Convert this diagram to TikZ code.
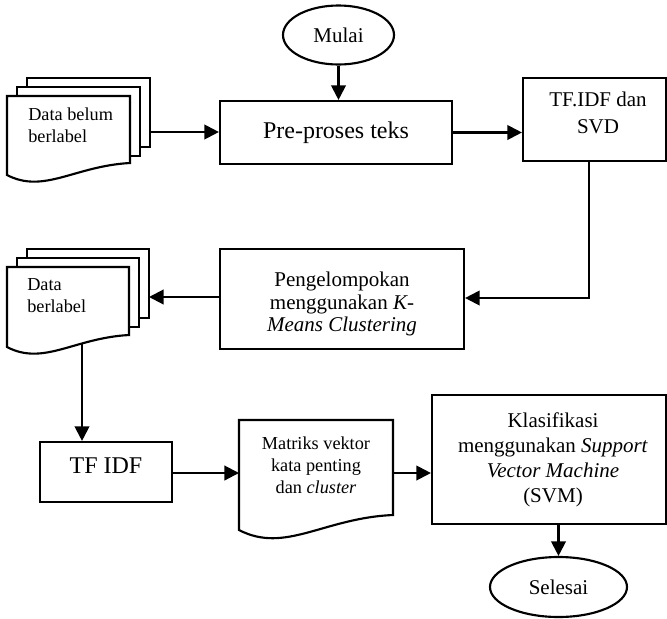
\documentclass[tikz,border=0pt]{standalone}
\usepackage{fontspec}
\setmainfont{Liberation Serif}
\usetikzlibrary{shapes.geometric,arrows.meta}
\tikzset{
 boxline/.style={draw,line width=1.6pt,fill=white},
 procbox/.style={boxline,rectangle,inner sep=0pt},
 termnode/.style={boxline,ellipse,inner sep=0pt,font=\fontsize{15.75}{18.75}\selectfont},
 bigtxt/.style={font=\fontsize{18}{22}\selectfont,align=center,inner sep=0pt},
 midtxt/.style={font=\fontsize{15.75}{18.75}\selectfont,align=center,inner sep=0pt},
 smalltxt/.style={font=\fontsize{13.7}{16.5}\selectfont,inner sep=0pt},
 conn/.style={line width=1.6pt},
 arr/.style={conn,-{Triangle[length=11pt,width=11pt]}},
}
% x0, y-top, x1, y-bottom-right, y-bottom-left
\newcommand\docsheet[5]{%
  \draw[boxline] (#1,#2) -- (#3,#2) -- (#3,#4)
    .. controls ({#1+0.55*(#3-#1)},{#4+3}) and ({#1+0.3*(#3-#1)},{#5+1.6*(#5-#4)}) .. (#1,#5) -- cycle;}
\newcommand\backsheet[4]{%
  \draw[boxline] (#1,#2) rectangle (#3,#4);}
\begin{document}
\begin{tikzpicture}[x=0.75pt,y=-0.75pt]
\useasboundingbox (0,0) rectangle (667,618);

% terminals
\node[termnode,minimum width=83.25pt,minimum height=44.25pt] (mulai) at (338.5,35) {Mulai};
\node[termnode,minimum width=102.75pt,minimum height=45pt] (selesai) at (558.5,587) {Selesai};

% process boxes
\node[procbox,minimum width=174pt,minimum height=47.25pt,bigtxt] (pre) at (336,132.5) {Pre-proses teks};
\node[procbox,minimum width=107.25pt,minimum height=62.25pt] (tfsvd) at (594.5,119.5) {};
\node[midtxt,font=\fontsize{15.75}{20}\selectfont] (tfsvdtxt) at (598,113) {TF.IDF dan\\SVD};
\node[procbox,minimum width=183pt,minimum height=75pt] (peng) at (342,299) {};
\node[midtxt,font=\fontsize{15.75}{17.2}\selectfont] (pengtxt) at (342,304) {Pengelompokan\\menggunakan \textit{K-}\\\textit{Means Clustering}};
\node[procbox,minimum width=99pt,minimum height=45pt] (tfidf) at (106,472) {};
\node[bigtxt] (tfidftxt) at (106,466) {TF IDF};
\node[procbox,minimum width=175.5pt,minimum height=96.75pt] (klas) at (549,459.5) {};
\node[midtxt] (klastxt) at (553,460) {Klasifikasi\\menggunakan \textit{Support}\\\textit{Vector Machine}\\(SVM)};

% document: Data belum berlabel
\backsheet{27}{78}{150}{147}
\backsheet{17}{87}{140}{156}
\docsheet{7}{96}{130}{163}{175}
\node[smalltxt,anchor=west,align=left] (d1txt) at (28,125) {Data belum\\berlabel};
\coordinate (d1out) at (150,132);

% document: Data berlabel
\backsheet{27}{249}{149}{318}
\backsheet{17}{258}{139}{327}
\docsheet{7}{267}{129}{335}{347}
\node[smalltxt,anchor=west,align=left] (d2txt) at (27,296) {Data\\berlabel};
\coordinate (d2in) at (149,297);
\coordinate (d2out) at (82,343);

% document: Matriks
\docsheet{239}{420}{393}{515}{530}
\node[smalltxt,align=center] (mattxt) at (316,465) {Matriks vektor\\kata penting\\dan \textit{cluster}};
\coordinate (matin) at (239,473);
\coordinate (matout) at (393,473);

% connectors
\coordinate (bend) at (589,298);
\draw[arr] (mulai.south) -- (mulai.south |- pre.north);
\draw[arr] (d1out) -- (d1out -| pre.west);
\draw[arr] (pre.east) -- (pre.east -| tfsvd.west);
\draw[arr] (bend |- tfsvd.south) -- (bend) -- (bend -| peng.east);
\draw[arr] (d2in -| peng.west) -- (d2in);
\draw[arr] (d2out) -- (d2out |- tfidf.north);
\draw[arr] (tfidf.east |- matin) -- (matin);
\draw[arr] (matout) -- (matout -| klas.west);
\draw[arr] (selesai.north |- klas.south) -- (selesai.north);
\end{tikzpicture}
\end{document}
